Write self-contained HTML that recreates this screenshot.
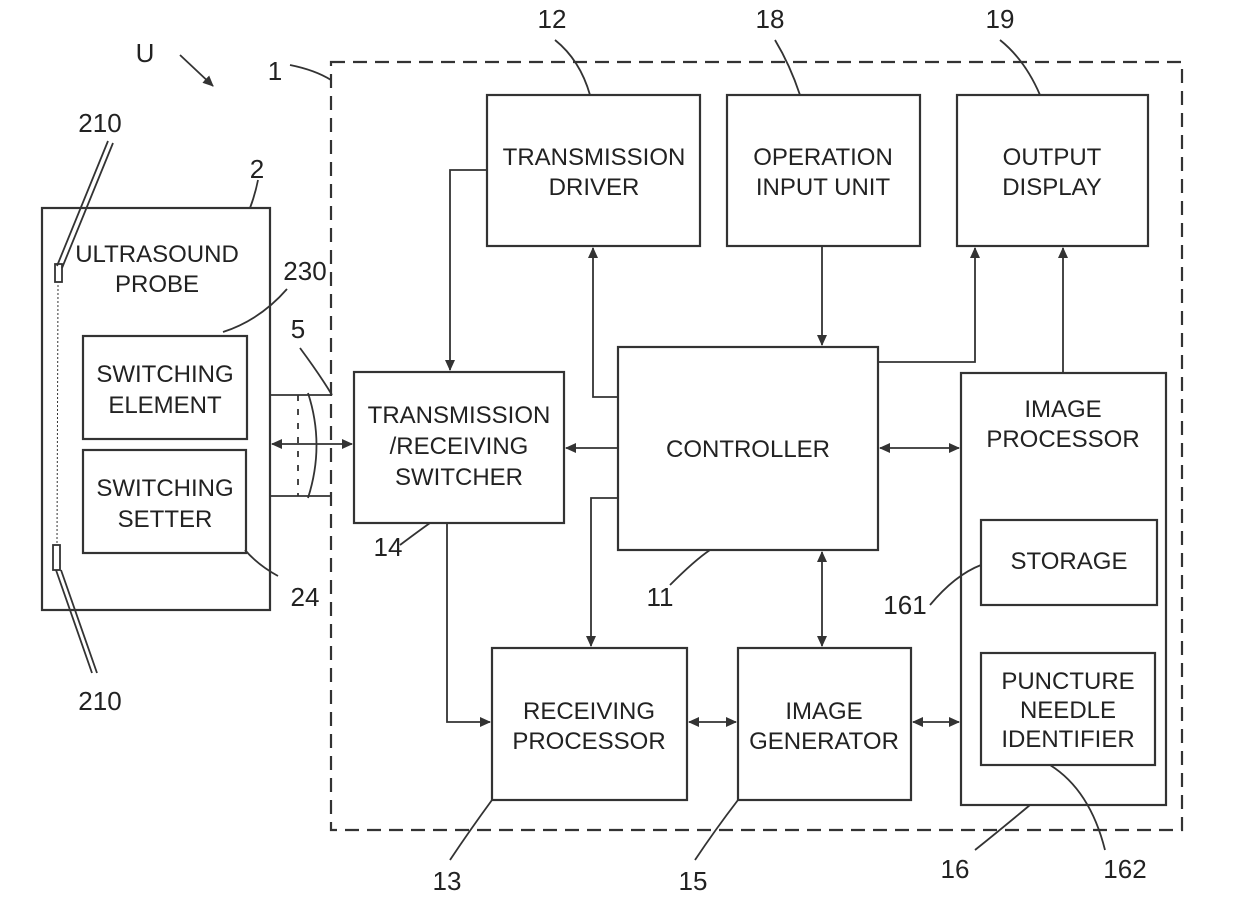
<!DOCTYPE html>
<html><head><meta charset="utf-8"><style>
html,body{margin:0;padding:0;background:#fff}
svg text{font-family:"Liberation Sans",sans-serif;fill:#222}
</style></head><body>
<svg width="1240" height="918" viewBox="0 0 1240 918" xmlns="http://www.w3.org/2000/svg">
<defs>
<marker id="a" markerWidth="12" markerHeight="12" refX="10" refY="5" orient="auto" markerUnits="userSpaceOnUse">
<path d="M0,0 L11,5 L0,10 z" fill="#333"/></marker>
<marker id="b" markerWidth="12" markerHeight="12" refX="1" refY="5" orient="auto" markerUnits="userSpaceOnUse">
<path d="M11,0 L0,5 L11,10 z" fill="#333"/></marker>
</defs>
<g fill="none" stroke="#333" stroke-width="2.2">
<rect x="331" y="62" width="851" height="768" stroke-dasharray="14,8"/>
<rect x="42" y="208" width="228" height="402"/>
<rect x="83" y="336" width="164" height="103"/>
<rect x="83" y="450" width="163" height="103"/>
<rect x="487" y="95" width="213" height="151"/>
<rect x="727" y="95" width="193" height="151"/>
<rect x="957" y="95" width="191" height="151"/>
<rect x="618" y="347" width="260" height="203"/>
<rect x="354" y="372" width="210" height="151"/>
<rect x="961" y="373" width="205" height="432"/>
<rect x="981" y="520" width="176" height="85"/>
<rect x="981" y="653" width="174" height="112"/>
<rect x="492" y="648" width="195" height="152"/>
<rect x="738" y="648" width="173" height="152"/>
</g>
<g fill="none" stroke="#333" stroke-width="1.8">
<line x1="270" y1="395" x2="331" y2="395"/>
<line x1="270" y1="496" x2="331" y2="496"/>
<path d="M308,393 Q325,445 308,498" />
<line x1="298" y1="395" x2="298" y2="496" stroke-dasharray="6,8"/>
<line x1="272" y1="444" x2="352" y2="444" marker-start="url(#b)" marker-end="url(#a)"/>
<polyline points="487,170 450,170 450,370" marker-end="url(#a)"/>
<polyline points="618,397 593,397 593,248" marker-end="url(#a)"/>
<line x1="618" y1="448" x2="566" y2="448" marker-end="url(#a)"/>
<polyline points="618,498 591,498 591,646" marker-end="url(#a)"/>
<line x1="822" y1="246" x2="822" y2="345" marker-end="url(#a)"/>
<polyline points="878,362 975,362 975,248" marker-end="url(#a)"/>
<line x1="1063" y1="373" x2="1063" y2="248" marker-end="url(#a)"/>
<line x1="880" y1="448" x2="959" y2="448" marker-start="url(#b)" marker-end="url(#a)"/>
<line x1="822" y1="552" x2="822" y2="646" marker-start="url(#b)" marker-end="url(#a)"/>
<polyline points="447,523 447,722 490,722" marker-end="url(#a)"/>
<line x1="689" y1="722" x2="736" y2="722" marker-start="url(#b)" marker-end="url(#a)"/>
<line x1="913" y1="722" x2="959" y2="722" marker-start="url(#b)" marker-end="url(#a)"/>
<line x1="180" y1="55" x2="213" y2="86" marker-end="url(#a)"/>
<path d="M290,65 Q315,70 331,80"/>
<path d="M555,40 Q580,60 590,95"/>
<path d="M775,40 Q790,65 800,95"/>
<path d="M1000,40 Q1025,60 1040,95"/>
<path d="M258,180 Q255,195 250,208"/>
<path d="M287,289 Q260,320 223,332"/>
<path d="M278,576 Q258,565 245,550"/>
<path d="M300,348 Q320,375 332,395"/>
<path d="M400,545 Q420,530 430,523"/>
<path d="M670,585 Q695,560 710,550"/>
<path d="M930,605 Q955,575 981,565"/>
<path d="M450,860 Q470,830 492,800"/>
<path d="M695,860 Q715,830 738,800"/>
<path d="M975,850 Q1000,830 1030,805"/>
<path d="M1105,850 Q1090,790 1050,765"/>
<path d="M108,141 L57,266"/><path d="M113,143 L62,268"/>
<path d="M92,673 L56,570"/><path d="M97,673 L61,570"/>
<rect x="55" y="264" width="7" height="18"/>
<rect x="53" y="545" width="7" height="25"/>
<line x1="58" y1="285" x2="57" y2="543" stroke-width="1" stroke-dasharray="2,2"/>
</g>
<g font-size="26" text-anchor="middle">
<text x="145" y="62">U</text>
<text x="275" y="80">1</text>
<text x="552" y="28">12</text>
<text x="770" y="28">18</text>
<text x="1000" y="28">19</text>
<text x="257" y="178">2</text>
<text x="100" y="132">210</text>
<text x="100" y="710">210</text>
<text x="305" y="280">230</text>
<text x="298" y="338">5</text>
<text x="305" y="606">24</text>
<text x="388" y="556">14</text>
<text x="660" y="606">11</text>
<text x="905" y="614">161</text>
<text x="447" y="890">13</text>
<text x="693" y="890">15</text>
<text x="955" y="878">16</text>
<text x="1125" y="878">162</text>
</g>
<g font-size="24" text-anchor="middle">
<text x="594" y="165">TRANSMISSION</text><text x="594" y="195">DRIVER</text>
<text x="823" y="165">OPERATION</text><text x="823" y="195">INPUT UNIT</text>
<text x="1052" y="165">OUTPUT</text><text x="1052" y="195">DISPLAY</text>
<text x="157" y="262">ULTRASOUND</text><text x="157" y="292">PROBE</text>
<text x="165" y="382">SWITCHING</text><text x="165" y="413">ELEMENT</text>
<text x="165" y="496">SWITCHING</text><text x="165" y="527">SETTER</text>
<text x="459" y="423">TRANSMISSION</text><text x="459" y="454">/RECEIVING</text><text x="459" y="485">SWITCHER</text>
<text x="748" y="457">CONTROLLER</text>
<text x="1063" y="417">IMAGE</text><text x="1063" y="447">PROCESSOR</text>
<text x="1069" y="569">STORAGE</text>
<text x="1068" y="689">PUNCTURE</text><text x="1068" y="718">NEEDLE</text><text x="1068" y="747">IDENTIFIER</text>
<text x="589" y="719">RECEIVING</text><text x="589" y="749">PROCESSOR</text>
<text x="824" y="719">IMAGE</text><text x="824" y="749">GENERATOR</text>
</g>
</svg>
</body></html>
